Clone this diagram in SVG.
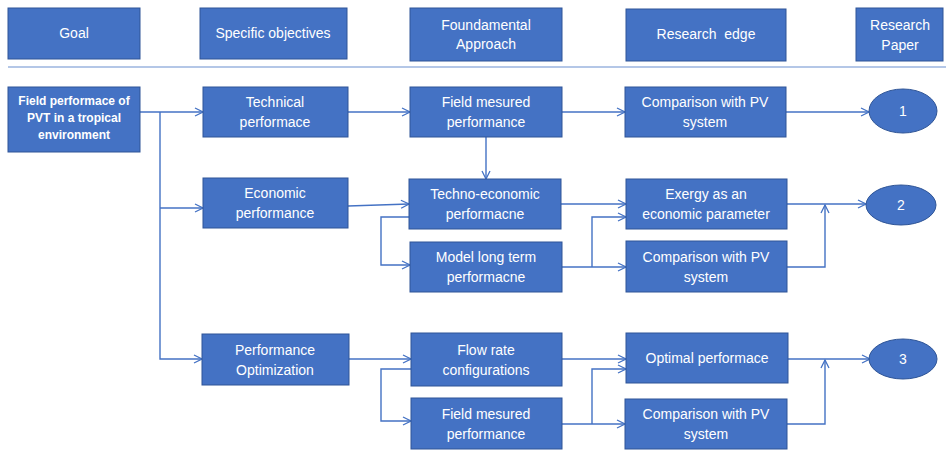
<svg xmlns="http://www.w3.org/2000/svg" width="946" height="450" viewBox="0 0 946 450">
<defs>
<marker id="arr" viewBox="0 0 10 10" refX="9" refY="5" markerWidth="10" markerHeight="10" markerUnits="userSpaceOnUse" orient="auto">
<path d="M1,1 L9,5 L1,9" fill="none" stroke="#4472C4" stroke-width="1.3"/>
</marker>
<style>
.box{fill:#4472C4;stroke:#2F5597;stroke-width:1}
.t{font-family:"Liberation Sans",Arial,sans-serif;font-size:14px;fill:#ffffff;text-anchor:middle;white-space:pre}
.s{font-family:"Liberation Sans",Arial,sans-serif;font-size:12px;font-weight:bold;fill:#ffffff;text-anchor:middle}
.c{fill:none;stroke:#4472C4;stroke-width:1.4}
.a{marker-end:url(#arr)}
</style>
</defs>
<rect width="946" height="450" fill="#ffffff"/>
<g id="headers">
<g id="h-goal"><rect class="box" x="8" y="8" width="132" height="51"/><text class="t" x="74" y="38">Goal</text></g>
<g id="h-objectives"><rect class="box" x="200" y="8" width="147" height="51"/><text class="t" x="273" y="38">Specific objectives</text></g>
<g id="h-approach"><rect class="box" x="410" y="8" width="152" height="53"/><text class="t" x="486" y="30">Foundamental</text><text class="t" x="486" y="49">Approach</text></g>
<g id="h-edge"><rect class="box" x="626" y="9" width="160" height="52"/><text class="t" x="706" y="39" xml:space="preserve">Research  edge</text></g>
<g id="h-paper"><rect class="box" x="856" y="8" width="87" height="53"/><text class="t" x="900" y="30">Research</text><text class="t" x="900" y="50">Paper</text></g>
</g>
<line x1="8" y1="67" x2="946" y2="67" stroke="#B4C7E7" stroke-width="2"/>
<g id="connectors">
<path class="c a" d="M140,112 H203"/>
<path class="c a" d="M160,112 V359 H202"/>
<path class="c a" d="M160,208 H203"/>
<path class="c a" d="M347,112 H410"/>
<path class="c a" d="M562,112 H625"/>
<path class="c a" d="M786,112 H869"/>
<path class="c a" d="M486,137 V179"/>
<path class="c a" d="M348,206 L409,204"/>
<path class="c a" d="M409,217 H381 V265 H410"/>
<path class="c a" d="M561,204 H626"/>
<path class="c a" d="M562,267 H626"/>
<path class="c a" d="M592,267 V217 H626"/>
<path class="c a" d="M787,204 H866"/>
<path class="c a" d="M787,267 H825 V205"/>
<path class="c a" d="M349,359 H411"/>
<path class="c a" d="M411,369 H381 V421 H411"/>
<path class="c a" d="M562,359 H626"/>
<path class="c a" d="M562,424 H625"/>
<path class="c a" d="M592,424 V369 H626"/>
<path class="c a" d="M788,359 H870"/>
<path class="c a" d="M787,424 H825 V360"/>
</g>
<g id="goal"><rect class="box" x="8" y="87" width="132" height="65"/><text class="s" x="74" y="105">Field performace of</text><text class="s" x="74" y="122">PVT in a tropical</text><text class="s" x="74" y="139">environment</text></g>
<g id="technical"><rect class="box" x="203" y="87" width="145" height="50"/><text class="t" x="275" y="107">Technical</text><text class="t" x="275" y="127">performace</text></g>
<g id="economic"><rect class="box" x="203" y="178" width="145" height="50"/><text class="t" x="275" y="198">Economic</text><text class="t" x="275" y="218">performance</text></g>
<g id="optimization"><rect class="box" x="202" y="334" width="147" height="51"/><text class="t" x="275" y="355">Performance</text><text class="t" x="275" y="375">Optimization</text></g>
<g id="field1"><rect class="box" x="410" y="87" width="152" height="50"/><text class="t" x="486" y="107">Field mesured</text><text class="t" x="486" y="127">performance</text></g>
<g id="techno"><rect class="box" x="409" y="179" width="152" height="50"/><text class="t" x="485" y="199">Techno-economic</text><text class="t" x="485" y="219">performacne</text></g>
<g id="model"><rect class="box" x="410" y="242" width="152" height="50"/><text class="t" x="486" y="262">Model long term</text><text class="t" x="486" y="282">performacne</text></g>
<g id="flow"><rect class="box" x="411" y="333" width="151" height="53"/><text class="t" x="486" y="355">Flow rate</text><text class="t" x="486" y="375">configurations</text></g>
<g id="field3"><rect class="box" x="411" y="398" width="151" height="51"/><text class="t" x="486" y="419">Field mesured</text><text class="t" x="486" y="439">performance</text></g>
<g id="comp1"><rect class="box" x="625" y="87" width="161" height="50"/><text class="t" x="705" y="107">Comparison with PV</text><text class="t" x="705" y="127">system</text></g>
<g id="exergy"><rect class="box" x="626" y="179" width="161" height="50"/><text class="t" x="706" y="199">Exergy as an</text><text class="t" x="706" y="219">economic parameter</text></g>
<g id="comp2"><rect class="box" x="626" y="241" width="161" height="51"/><text class="t" x="706" y="262">Comparison with PV</text><text class="t" x="706" y="282">system</text></g>
<g id="optimal"><rect class="box" x="626" y="333" width="162" height="50"/><text class="t" x="707" y="363">Optimal performace</text></g>
<g id="comp3"><rect class="box" x="625" y="399" width="162" height="50"/><text class="t" x="706" y="419">Comparison with PV</text><text class="t" x="706" y="439">system</text></g>
<g id="paper1"><ellipse class="box" cx="903" cy="111" rx="34" ry="22"/><text class="t" x="903" y="116">1</text></g>
<g id="paper2"><ellipse class="box" cx="901" cy="205" rx="35" ry="20"/><text class="t" x="901" y="210">2</text></g>
<g id="paper3"><ellipse class="box" cx="903" cy="359" rx="34" ry="20"/><text class="t" x="903" y="364">3</text></g>
</svg>
